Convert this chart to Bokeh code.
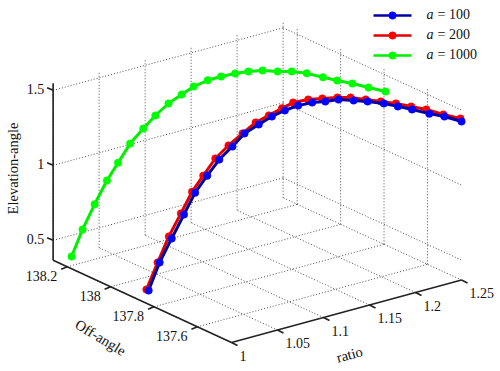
from bokeh.core.properties import value
from bokeh.embed import file_html
from bokeh.models import Range1d
from bokeh.plotting import figure
from bokeh.resources import INLINE

ratio = [1.000, 1.011, 1.022, 1.033, 1.043, 1.054, 1.065, 1.076, 1.087, 1.098, 1.109, 1.120,
         1.130, 1.141, 1.152, 1.163, 1.174, 1.185, 1.196, 1.207, 1.217, 1.228, 1.239, 1.250]

off_100 = [137.825, 137.821, 137.812, 137.802, 137.793, 137.784, 137.775, 137.761,
           137.752, 137.733, 137.719, 137.706, 137.687, 137.669, 137.655, 137.641,
           137.618, 137.600, 137.572, 137.554, 137.531, 137.498, 137.475, 137.443]
elev_100 = [0.459, 0.630, 0.778, 0.926, 1.061, 1.162, 1.257, 1.335, 1.410, 1.464, 1.508, 1.539,
            1.567, 1.581, 1.579, 1.583, 1.574, 1.561, 1.548, 1.522, 1.500, 1.476, 1.454, 1.424]

off_200 = [137.835, 137.830, 137.825, 137.816, 137.807, 137.802, 137.793, 137.779,
           137.761, 137.747, 137.733, 137.719, 137.710, 137.687, 137.669, 137.646,
           137.632, 137.609, 137.586, 137.563, 137.535, 137.512, 137.480, 137.448]
elev_200 = [0.459, 0.624, 0.783, 0.924, 1.058, 1.150, 1.252, 1.330, 1.404, 1.468, 1.506, 1.544,
            1.572, 1.589, 1.590, 1.593, 1.584, 1.568, 1.552, 1.536, 1.517, 1.494, 1.464, 1.440]

off_1000 = [138.180, 138.176, 138.167, 138.157, 138.148, 138.139, 138.125, 138.116,
            138.102, 138.088, 138.079, 138.061, 138.042, 138.024, 138.010, 137.991,
            137.968, 137.950, 137.927, 137.899, 137.876, 137.853, 137.825, 137.793]
elev_1000 = [0.449, 0.614, 0.769, 0.916, 1.024, 1.139, 1.230, 1.305, 1.376, 1.427, 1.468, 1.503,
             1.524, 1.538, 1.542, 1.543, 1.534, 1.528, 1.512, 1.486, 1.463, 1.440, 1.414, 1.390]

ratio_ticks = [1, 1.05, 1.1, 1.15, 1.2, 1.25]
ratio_labels = ["1", "1.05", "1.1", "1.15", "1.2", "1.25"]
off_ticks = [138.2, 138, 137.8, 137.6]
off_labels = ["138.2", "138", "137.8", "137.6"]
elev_ticks = [0.5, 1, 1.5]
elev_labels = ["0.5", "1", "1.5"]

series = [("1000", off_1000, elev_1000, "#00ee00", "#00ff00"),
          ("200", off_200, elev_200, "#e00000", "#ff0000"),
          ("100", off_100, elev_100, "#0000a0", "#0000ff")]

R0, R1 = 1.0, 1.25
O0, O1 = 137.443, 138.265
Z0, Z1 = 0.367, 1.547


def px(r, o, z=Z0):
    return 231 + 920 * (r - R0) - 217 * (o - O0)


def py(r, o, z=Z0):
    return 342 - 250 * (r - R0) - 100 * (o - O0) - 150 * (z - Z0)


def seg(r0, o0, z0, r1, o1, z1):
    return [px(r0, o0, z0), px(r1, o1, z1)], [py(r0, o0, z0), py(r1, o1, z1)]


p = figure(width=500, height=371, x_range=Range1d(0, 500), y_range=Range1d(371, 0),
           output_backend="svg", toolbar_location=None, min_border=0)
p.axis.visible = False
p.grid.visible = False
p.outline_line_color = None
p.background_fill_color = "white"

FONT = value("Liberation Serif")
grid = dict(line_color="#505050", line_width=1, line_dash="1 2")

for r in ratio_ticks:
    p.line(*seg(r, O0, Z0, r, O1, Z0), **grid)
    p.line(*seg(r, O1, Z0, r, O1, Z1), **grid)
for o in off_ticks:
    p.line(*seg(R0, o, Z0, R1, o, Z0), **grid)
    p.line(*seg(R1, o, Z0, R1, o, Z1), **grid)
for z in elev_ticks:
    p.line(*seg(R0, O1, z, R1, O1, z), **grid)
    p.line(*seg(R1, O1, z, R1, O0, z), **grid)

axis = dict(line_color="#222222", line_width=1.6)
p.line(*seg(R0, O0, Z0, R1, O0, Z0), **axis)
p.line(*seg(R0, O0, Z0, R0, O1, Z0), **axis)
p.line(*seg(R0, O1, Z0, R0, O1, Z1), **axis)

for r in ratio_ticks:
    x, y = px(r, O0), py(r, O0)
    p.line([x, x + 6], [y, y + 3], **axis)
for o in off_ticks:
    x, y = px(R0, o), py(R0, o)
    p.line([x, x - 6], [y, y + 2.5], **axis)
for z in elev_ticks:
    x, y = px(R0, O1, z), py(R0, O1, z)
    p.line([x, x - 6], [y, y - 2.5], **axis)

tick_text = dict(text_font=FONT, text_font_size="14px", text_color="#111111", text_baseline="middle")
p.text([px(r, O0) for r in ratio_ticks], [py(r, O0) for r in ratio_ticks], text=ratio_labels,
       x_offset=8, y_offset=13, text_align="left", **tick_text)
p.text([px(R0, o) for o in off_ticks], [py(R0, o) for o in off_ticks], text=off_labels,
       x_offset=-10, y_offset=9.5, text_align="right", **tick_text)
p.text([px(R0, O1, z) for z in elev_ticks], [py(R0, O1, z) for z in elev_ticks], text=elev_labels,
       x_offset=-9, y_offset=-1.5, text_align="right", **tick_text)

label = dict(text_font=FONT, text_font_size="14.5px", text_color="#111111",
             text_align="center", text_baseline="middle", angle_units="deg")
p.text([12], [168], text=["Elevation-angle"], angle=90, **label)
p.text([100], [337], text=["Off-angle"], angle=-31, **label)
p.text([349], [354], text=["ratio"], angle=15, **label)

for name, off, elev, line_c, fill_c in series:
    xs = [px(r, o, z) for r, o, z in zip(ratio, off, elev)]
    ys = [py(r, o, z) for r, o, z in zip(ratio, off, elev)]
    p.line(xs, ys, line_color=line_c, line_width=3)
    p.scatter(xs, ys, size=7.5, fill_color=fill_c, line_color=fill_c, line_width=0.5)

legend_y = {"100": 15, "200": 35, "1000": 55}
legend_text = dict(text_font=FONT, text_font_size="14px", text_color="#111111",
                   text_align="left", text_baseline="middle")
for name, off, elev, line_c, fill_c in series:
    y = legend_y[name]
    p.line([373, 411], [y, y], line_color=line_c, line_width=2.6)
    p.scatter([392], [y], size=7.5, fill_color=fill_c, line_color=fill_c, line_width=0.5)
    p.text([426], [y - 1], text=["a"], text_font_style="italic", **legend_text)
    p.text([437], [y - 1], text=["= " + name], **legend_text)

open("out.html", "w").write(file_html(p, INLINE))
